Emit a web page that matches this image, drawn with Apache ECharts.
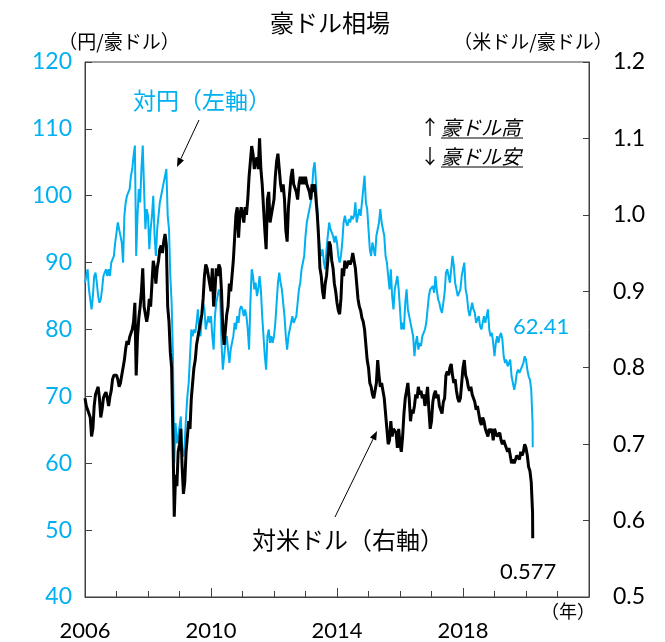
<!DOCTYPE html>
<html>
<head>
<meta charset="utf-8">
<script src="https://cdn.jsdelivr.net/npm/echarts@6/dist/echarts.min.js"></script>
<style>
html,body{margin:0;padding:0;background:#fff;}
#container{width:665px;height:642px;}
</style>
</head>
<body>
<div id="container"></div>
<script>
// 豪ドル相場：半月ごと（1日・16日）の値、2006年1月～2020年3月
var startYear = 2006;
var jpyRates = [
	87, 88, 89, 86, 84.5, 83, 85, 88, 88.5, 87, 85, 84, 84.5, 86, 88, 88.5, 89, 88, 89, 88, 90, 90.5, 91, 93,
	93, 96, 95, 94, 93, 90, 97, 99, 100, 100.5, 101, 103, 104, 106, 107.5, 91, 97, 101, 99, 104, 107.5, 101, 95, 98,
	97, 92, 95, 97, 100, 94, 91, 95, 97, 99, 100, 101, 102, 103, 104, 97, 95, 88, 84, 76, 60, 66, 63, 64,
	64, 67, 62, 61, 63, 67, 70, 72, 76, 80, 79, 80, 79.5, 81, 83, 80, 79, 82, 84, 83, 80, 81, 82, 81,
	82, 79, 77, 82, 84, 85, 86, 85, 78, 74, 76, 78, 79, 77, 75, 77, 78, 79, 81, 80, 82, 81, 83, 83.5,
	83, 82, 83, 82, 80, 77, 84, 89, 88, 86, 87, 85, 86, 88, 86, 82, 79, 76, 74, 79, 80, 78, 79, 78,
	79, 81, 84, 87, 88.5, 87, 86, 84, 82, 79, 77, 79, 80, 81, 82, 81, 81, 82, 84, 86, 87, 89, 89, 91,
	94, 96, 97, 98, 99, 101, 104, 105, 102, 98, 94, 92, 91, 92, 90, 89, 92, 94, 96, 95, 95, 94, 93, 94,
	93, 91, 90, 91, 93, 96, 97, 96, 95.5, 96.5, 96, 97, 96.5, 97, 99, 96, 96, 98, 97, 99, 101, 103, 99, 98,
	95, 92, 91, 93, 92, 91, 94, 95, 96, 98, 96, 95, 94, 91, 90, 88, 86, 89, 85, 83, 86, 87, 88, 86,
	83, 80, 81, 80, 84, 86, 83, 82, 81, 80, 79, 76, 78, 79, 77, 78, 77.5, 79, 79.5, 80, 81, 83, 85, 86,
	86, 86.5, 85.5, 88, 86, 84.5, 84, 83, 82.5, 84, 85.5, 88.5, 89, 88, 87, 89, 91, 89.5, 87, 86, 85, 85.5, 86, 88,
	89, 90, 86, 85, 83, 82, 83, 84, 83, 82.5, 81, 81.5, 82, 80.5, 80, 81, 82, 81, 82, 83, 80, 79, 79.5, 78,
	76, 78, 79, 78, 79, 79.5, 78.5, 76, 75, 75.5, 74.5, 75, 75.5, 73, 72, 71, 72, 73.5, 74, 73.5, 74, 74.5, 75, 76,
	75.5, 74, 73, 72.5, 71, 66
];
var usdRates = [
	0.76, 0.75, 0.745, 0.74, 0.735, 0.71, 0.72, 0.75, 0.765, 0.77, 0.775, 0.76, 0.735, 0.745, 0.76, 0.765, 0.768, 0.76, 0.75, 0.762, 0.77, 0.785, 0.79, 0.79,
	0.79, 0.785, 0.775, 0.78, 0.79, 0.80, 0.81, 0.825, 0.835, 0.83, 0.84, 0.845, 0.85, 0.86, 0.885, 0.79, 0.84, 0.865, 0.88, 0.90, 0.93, 0.88, 0.87, 0.86,
	0.87, 0.89, 0.88, 0.91, 0.94, 0.93, 0.91, 0.93, 0.94, 0.955, 0.96, 0.95, 0.965, 0.975, 0.96, 0.88, 0.86, 0.82, 0.80, 0.71, 0.605, 0.66, 0.645, 0.69,
	0.70, 0.72, 0.67, 0.635, 0.65, 0.69, 0.71, 0.73, 0.72, 0.76, 0.78, 0.80, 0.81, 0.83, 0.84, 0.85, 0.86, 0.87, 0.89, 0.92, 0.935, 0.93, 0.92, 0.91,
	0.90, 0.93, 0.88, 0.90, 0.93, 0.92, 0.935, 0.93, 0.90, 0.85, 0.83, 0.85, 0.87, 0.88, 0.91, 0.90, 0.90, 0.94, 0.97, 1.00, 1.01, 0.97, 1.00, 1.01,
	1.00, 0.99, 1.01, 1.00, 1.02, 1.05, 1.07, 1.09, 1.08, 1.06, 1.07, 1.075, 1.06, 1.10, 1.06, 1.04, 1.04, 0.98, 0.955, 1.02, 1.03, 0.99, 1.00, 1.01,
	1.02, 1.05, 1.07, 1.08, 1.06, 1.04, 1.03, 1.04, 1.02, 0.98, 0.965, 1.01, 1.03, 1.05, 1.06, 1.04, 1.04, 1.03, 1.02, 1.04, 1.05, 1.04, 1.05, 1.04,
	1.05, 1.04, 1.04, 1.03, 1.02, 1.04, 1.03, 1.04, 1.02, 1.00, 0.97, 0.93, 0.92, 0.90, 0.89, 0.91, 0.92, 0.94, 0.965, 0.96, 0.94, 0.93, 0.91, 0.90,
	0.885, 0.875, 0.87, 0.89, 0.93, 0.92, 0.94, 0.93, 0.93, 0.94, 0.935, 0.94, 0.95, 0.94, 0.93, 0.93, 0.89, 0.88, 0.875, 0.865, 0.86, 0.85, 0.83, 0.81,
	0.80, 0.78, 0.775, 0.765, 0.76, 0.77, 0.78, 0.81, 0.79, 0.775, 0.78, 0.77, 0.76, 0.74, 0.72, 0.70, 0.705, 0.73, 0.71, 0.72, 0.72, 0.715, 0.695, 0.72,
	0.70, 0.69, 0.71, 0.74, 0.76, 0.77, 0.78, 0.76, 0.73, 0.745, 0.74, 0.75, 0.765, 0.76, 0.775, 0.765, 0.77, 0.76, 0.765, 0.75, 0.76, 0.775, 0.745, 0.72,
	0.73, 0.755, 0.765, 0.77, 0.76, 0.765, 0.75, 0.745, 0.74, 0.755, 0.76, 0.79, 0.795, 0.79, 0.80, 0.805, 0.79, 0.78, 0.785, 0.77, 0.76, 0.755, 0.76, 0.78,
	0.80, 0.81, 0.79, 0.785, 0.775, 0.77, 0.775, 0.765, 0.76, 0.755, 0.745, 0.75, 0.74, 0.73, 0.725, 0.735, 0.73, 0.72, 0.715, 0.71, 0.72, 0.715, 0.72, 0.705,
	0.72, 0.715, 0.71, 0.71, 0.715, 0.705, 0.70, 0.705, 0.70, 0.695, 0.69, 0.695, 0.685, 0.675, 0.68, 0.675, 0.68, 0.685, 0.685, 0.68, 0.69, 0.685, 0.69, 0.70,
	0.695, 0.685, 0.67, 0.665, 0.65, 0.61
];
// 最終値（2020年3月19日）
var lastDate = 2020 + 78 / 365;
var lastJpy = 62.41;
var lastUsd = 0.577;
var yearLabels = [2006, 2010, 2014, 2018];

var BLUE = '#00B0F0';
var AXIS = '#404040';
var JP = '"Noto Sans CJK JP"';
var NUM = 'Lato, "Noto Sans CJK JP"';

function toSeries(vals, last) {
	var d = vals.map(function (v, i) { return [startYear + i / 24, v]; });
	d.push([lastDate, last]);
	return d;
}

// 矢印（線＋三角形）
function arrow(x1, y1, x2, y2) {
	var a = Math.atan2(y2 - y1, x2 - x1), L = 9, W = 3.5;
	var bx = x2 - L * Math.cos(a), by = y2 - L * Math.sin(a);
	var px = -Math.sin(a) * W, py = Math.cos(a) * W;
	return [{
		type: 'line', shape: { x1: x1, y1: y1, x2: bx, y2: by },
		style: { stroke: '#000', lineWidth: 1 }
	}, {
		type: 'polygon', shape: { points: [[x2, y2], [bx + px, by + py], [bx - px, by - py]] },
		style: { fill: '#000' }
	}];
}

function txt(x, y, s, font, color, align) {
	return {
		type: 'text', x: x, y: y,
		style: { text: s, font: font, fill: color || '#000', textAlign: align || 'center', textVerticalAlign: 'middle' }
	};
}

var dom = document.getElementById('container');
var myChart = echarts.init(dom);

var graphics = [
	txt(330, 23, '豪ドル相場', '24px ' + JP),
	txt(119, 42, '（円/豪ドル）', '19px ' + JP),
	txt(533, 42, '（米ドル/豪ドル）', '19px ' + JP),
	txt(133, 100, '対円（左軸）', '23px ' + JP, BLUE, 'left'),
	txt(252, 540, '対米ドル（右軸）', '24px ' + JP, '#000', 'left'),
	txt(420, 127, '↑', '20px ' + JP, '#000', 'left'),
	txt(441, 127, '豪ドル高', 'italic 20px ' + JP, '#000', 'left'),
	txt(420, 156, '↓', '20px ' + JP, '#000', 'left'),
	txt(441, 156, '豪ドル安', 'italic 20px ' + JP, '#000', 'left'),
	{ type: 'line', shape: { x1: 441, y1: 138, x2: 523, y2: 138 }, style: { stroke: '#000', lineWidth: 1 } },
	{ type: 'line', shape: { x1: 441, y1: 167, x2: 523, y2: 167 }, style: { stroke: '#000', lineWidth: 1 } },
	txt(513, 327, '62.41', '22px ' + NUM, BLUE, 'left'),
	txt(500, 572, '0.577', '22px ' + NUM, '#000', 'left'),
	txt(568, 611, '（年）', '18px ' + JP)
].concat(arrow(199, 120, 177, 167)).concat(arrow(335, 517, 377, 431));

var option = {
	animation: false,
	backgroundColor: '#fff',
	grid: {
		left: 85, right: 76, top: 62, bottom: 44,
		show: true, borderColor: AXIS, borderWidth: 1
	},
	xAxis: {
		type: 'value', min: 2006, max: 2022, interval: 4,
		axisLine: { show: true, lineStyle: { color: AXIS, width: 1 } },
		axisTick: { show: true, inside: true, length: 9, lineStyle: { color: AXIS, width: 1 } },
		minorTick: { show: true, splitNumber: 4, length: 6, lineStyle: { color: AXIS, width: 1 } },
		splitLine: { show: false },
		axisLabel: {
			margin: 23, fontSize: 22, fontFamily: NUM, color: '#000',
			formatter: function (v) { return yearLabels.indexOf(v) >= 0 ? String(v) : ''; }
		}
	},
	yAxis: [{
		type: 'value', min: 40, max: 120, interval: 10,
		axisLine: { show: true, lineStyle: { color: AXIS, width: 1 } },
		axisTick: { show: true, inside: true, length: 7, lineStyle: { color: AXIS, width: 1 } },
		splitLine: { show: false },
		axisLabel: { margin: 13, fontSize: 23, fontFamily: NUM, color: BLUE }
	}, {
		type: 'value', min: 0.5, max: 1.2, interval: 0.1, position: 'right',
		axisLine: { show: true, lineStyle: { color: AXIS, width: 1 } },
		axisTick: { show: true, inside: true, length: 6, lineStyle: { color: AXIS, width: 1 } },
		splitLine: { show: false },
		axisLabel: {
			margin: 24, fontSize: 23, fontFamily: NUM, color: '#000',
			formatter: function (v) { return v.toFixed(1); }
		}
	}],
	series: [{
		name: '対円', type: 'line', yAxisIndex: 0, showSymbol: false, z: 2,
		lineStyle: { color: BLUE, width: 2 },
		data: toSeries(jpyRates, lastJpy)
	}, {
		name: '対米ドル', type: 'line', yAxisIndex: 1, showSymbol: false, z: 3,
		lineStyle: { color: '#000', width: 3 },
		data: toSeries(usdRates, lastUsd)
	}],
	graphic: graphics
};

myChart.setOption(option, true);
</script>
</body>
</html>
